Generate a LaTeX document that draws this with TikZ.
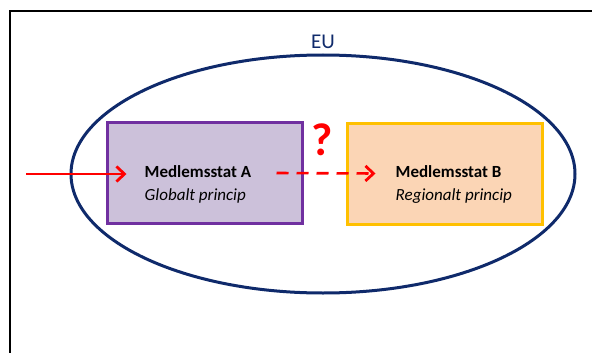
\documentclass[tikz,border=0pt]{standalone}
\usepackage{fontspec}
\setmainfont{Carlito}
\usetikzlibrary{arrows.meta,positioning,shapes.geometric}

\definecolor{eublue}{HTML}{0F2A6B}
\definecolor{lavfill}{HTML}{CCC1DA}
\definecolor{lavline}{HTML}{7030A0}
\definecolor{peachfill}{HTML}{FBD5B5}
\definecolor{goldline}{HTML}{FFC000}

\tikzset{
  statebox/.style={draw, line width=3pt, minimum width=195pt, minimum height=101pt, inner sep=0pt},
  statetext/.style={anchor=west, align=left, font=\fontsize{17}{23}\selectfont, inner sep=0pt},
  flow/.style={red, line width=2.6pt, -{Straight Barb[length=8pt,width=15pt,line width=2.8pt]}}
}

\begin{document}
\begin{tikzpicture}[x=1pt,y=-1pt]
  % fix the page to the reference size
  \useasboundingbox (0,0) rectangle (592,353);
  \clip (0,0) rectangle (592,353);

  % frame, cut off at right and bottom
  \draw[line width=2.6pt] (10,360) -- (10,11) -- (600,11);

  % the EU ellipse and its label
  \node[ellipse, draw=eublue, line width=3pt, minimum width=504pt, minimum height=238pt, inner sep=0pt] (eu) at (323,174) {};
  \node[text=eublue, font=\fontsize{21}{21}\selectfont, anchor=south, inner sep=0pt] (eulabel) at ([yshift=5pt]eu.north) {EU};

  % the two member states
  \node[statebox, draw=lavline, fill=lavfill] (stateA) at (204.5,173) {};
  \node[statebox, draw=goldline, fill=peachfill] (stateB) at (444.5,173.5) {};
  \node[statetext] (textA) at ([xshift=39pt,yshift=-11pt]stateA.west) {\textbf{Medlemsstat A}\\\textit{Globalt princip}};
  \node[statetext] (textB) at ([xshift=50pt,yshift=-11pt]stateB.west) {\textbf{Medlemsstat B}\\\textit{Regionalt princip}};

  % question mark between the boxes
  \node[text=red, font=\bfseries\fontsize{46}{46}\selectfont, inner sep=0pt] (query) at (322,140) {?};

  % arrows
  \coordinate (entry) at (26,174);
  \draw[flow] (entry) -- ([xshift=21pt,yshift=-1pt]stateA.west);
  \draw[flow, dash pattern=on 12pt off 8pt] ([xshift=-27pt]stateA.east) -- ([xshift=30pt]stateB.west);
\end{tikzpicture}
\end{document}
